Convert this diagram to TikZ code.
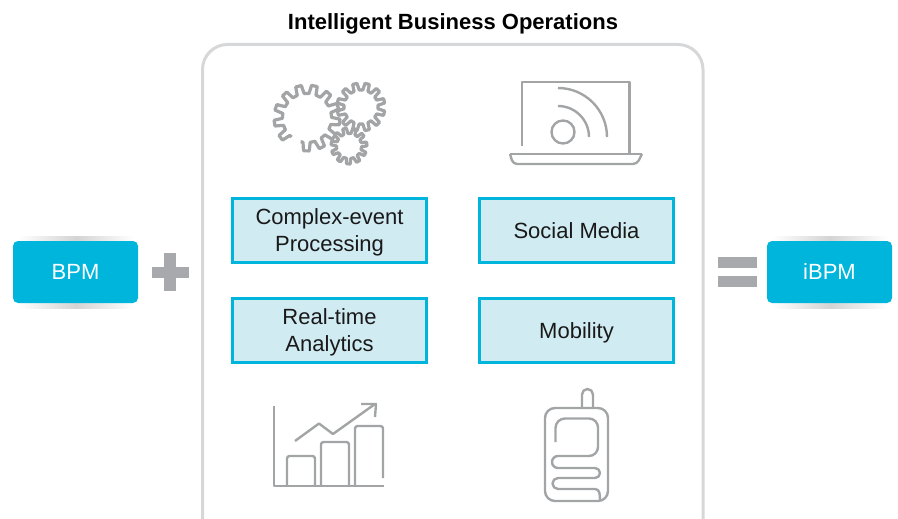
\documentclass[tikz,border=0pt]{standalone}
\usepackage{fontspec}
\setmainfont{Liberation Sans}
\definecolor{cy}{HTML}{00B5DC}
\definecolor{lt}{HTML}{D1EBF2}
\definecolor{fr}{HTML}{D6D7D9}
\definecolor{op}{HTML}{A7A9AC}
\definecolor{ic}{HTML}{A2A4A6}
\tikzset{
  panel/.style={draw=cy,fill=lt,line width=2.3pt,minimum width=194pt,minimum height=64pt,inner sep=0pt,align=center,font=\fontsize{22}{27}\selectfont,text=black!90},
  blue/.style={fill=cy,rounded corners=5pt,minimum width=125pt,minimum height=62pt,inner sep=0pt,text=white,font=\fontsize{22}{25}\selectfont},
  icon/.style={draw=ic,line width=2.4pt,line join=round,line cap=butt},
  gearline/.style={draw=ic,line width=3.2pt,line join=round,line cap=butt},
  opmark/.style={fill=op},
  halo/.style={left color=white,right color=white,middle color=black!17}
}
\newcommand{\lowered}[2]{\raisebox{-#1pt}[\height][\depth]{#2}}
\newcommand{\gearpath}[7]{% cx cy rInner rOuter startAngle pitch lastIndex
  \draw[gearline] (#1,#2) ++({#5}:#3)
    \foreach \i in {0,...,#7} {
      -- ++(0,0)
      -- ($(#1,#2)+({#5+#6*\i+.2*#6}:#3)$)
      -- ($(#1,#2)+({#5+#6*\i+.32*#6}:#4)$)
      -- ($(#1,#2)+({#5+#6*\i+.68*#6}:#4)$)
      -- ($(#1,#2)+({#5+#6*\i+.8*#6}:#3)$)
      -- ($(#1,#2)+({#5+#6*\i+#6}:#3)$)
    };
}
\usetikzlibrary{calc}
\begin{document}
\begin{tikzpicture}[x=1pt,y=-1pt]
\useasboundingbox (0,0) rectangle (898,519);
\clip (0,0) rectangle (898,519);
\node[font=\bfseries\fontsize{22}{25}\selectfont,text=black] (title) at (453,24) {Intelligent Business Operations};
\draw[fr,line width=3pt,rounded corners=25pt] (202.5,560) -- (202.5,44.5) -- (703,44.5) -- (703,560);
% halos
\shade[halo] (18,236) rectangle (134,308);
\shade[halo] (772,236) rectangle (888,308);
\node[blue] (bpm) at (75.5,272) {BPM};
\node[blue] (ibpm) at (829.5,272) {iBPM};
% operators
\fill[opmark] (152,267) rectangle (189,278);
\fill[opmark] (164,253) rectangle (176,291);
\fill[opmark] (718,257) rectangle (757,268);
\fill[opmark] (718,276) rectangle (757,287);
% panels
\node[panel] (cep) at (329.5,230.5) {\lowered{1.5}{\parbox{190pt}{\centering Complex-event\\Processing}}};
\node[panel] (social) at (576.5,230.5) {\lowered{0.5}{Social Media}};
\node[panel] (rta) at (329.5,330.5) {\lowered{2}{\parbox{190pt}{\centering Real-time\\Analytics}}};
\node[panel] (mob) at (576.5,330.5) {\lowered{2.5}{Mobility}};
% gears
\gearpath{307}{118}{24.5}{33}{129}{28}{11}
\gearpath{361}{107}{17}{24}{0}{30}{11}
\gearpath{349}{146}{12.5}{18}{10}{32.73}{10}
% laptop
\draw[icon] (522,146) -- (522,82) -- (629.5,82) -- (629.5,154);
\draw[icon] (510,154) -- (642,154);
\draw[icon,rounded corners=4pt] (510,154) -- (513,164) -- (637,164) -- (642,154);
\draw[icon] (563,132) circle [radius=11.5];
\draw[icon] (558,106) arc [start angle=-90,end angle=0,radius=31];
\draw[icon] (558,88) arc [start angle=-90,end angle=0,radius=49];
% chart
\draw[icon] (274,406) -- (274,486) -- (384,486);
\draw[icon,rounded corners=2.5pt] (287,486) -- (287,456) -- (315,456) -- (315,486);
\draw[icon,rounded corners=2.5pt] (321,486) -- (321,442) -- (349,442) -- (349,486);
\draw[icon,rounded corners=2.5pt] (355,486) -- (355,426) -- (383,426) -- (383,478);
\draw[icon] (295,441) -- (319,423.5) -- (333,434) -- (375,404);
\draw[icon] (361,404) -- (376,404) -- (375,417);
% phone
\draw[icon] (582,408) -- (582,394.5) arc [start angle=180,end angle=360,radius=5.5] -- (593,408);
\draw[icon] (545,418) arc [start angle=180,end angle=270,radius=10] -- (598,408) arc [start angle=270,end angle=360,radius=10] -- (608,491) arc [start angle=0,end angle=90,radius=10] -- (555,501) arc [start angle=90,end angle=180,radius=10] -- cycle;
\draw[icon] (555.5,442) -- (555.5,428) arc [start angle=180,end angle=270,radius=9.5] -- (589,418.5) arc [start angle=270,end angle=360,radius=9] -- (598,447) arc [start angle=0,end angle=90,radius=9] -- (558,456) arc [start angle=270,end angle=90,radius=6] -- (595,468) arc [start angle=-90,end angle=90,radius=5] -- (558,478) arc [start angle=270,end angle=90,radius=5.5] -- (595,489) .. controls (600,489) and (600,495) .. (600,501);
\end{tikzpicture}
\end{document}
